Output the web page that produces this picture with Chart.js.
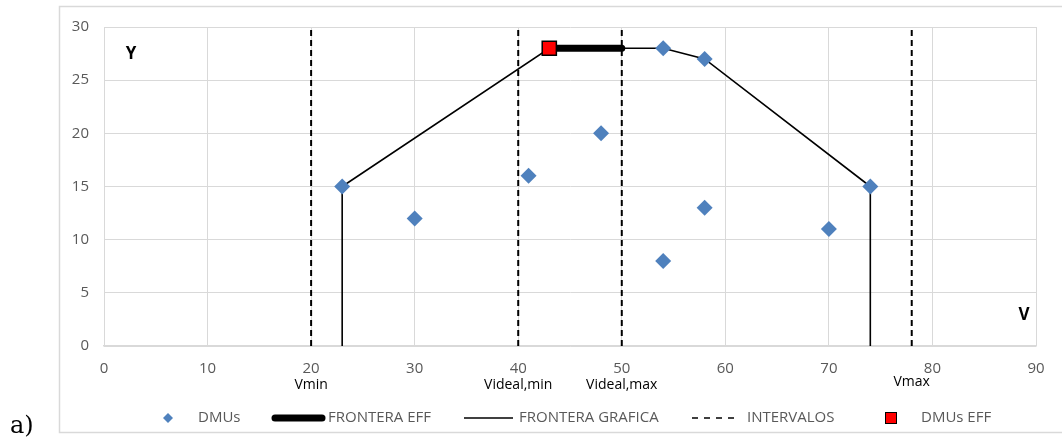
<!DOCTYPE html>
<html>
<head>
<meta charset="utf-8">
<script src="https://cdn.jsdelivr.net/npm/chart.js@4"></script>
<style>
html,body{margin:0;padding:0;background:#fff;}
#wrap{width:1062px;height:439px;position:relative;}
</style>
</head>
<body>
<div id="wrap"><canvas id="c" width="1062" height="439"></canvas></div>
<script>
// ---- data ----
const dmuV = [23, 30, 41, 48, 54, 54, 58, 58, 70, 74];
const dmuY = [15, 12, 16, 20, 28, 8, 27, 13, 11, 15];
const dmuEffV = [43];
const dmuEffY = [28];
const fronteraEffV = [43, 50];
const fronteraEffY = [28, 28];
const fronteraGrafV = [23, 23, 43, 54, 58, 74, 74];
const fronteraGrafY = [0, 15, 28, 28, 27, 15, 0];
const intervalV = [20, 40, 50, 78];
const intervalLabels = ['Vmin', 'Videal,min', 'Videal,max', 'Vmax'];
const intervalYRange = [0, 30];
const xTicks = [0, 10, 20, 30, 40, 50, 60, 70, 80, 90];
const yTicks = [0, 5, 10, 15, 20, 25, 30];
const seriesNames = ['DMUs', 'FRONTERA EFF', 'FRONTERA GRAFICA', 'INTERVALOS', 'DMUs EFF'];

const zip = (xs, ys) => xs.map((x, i) => ({x: x, y: ys[i]}));
const intervalPts = [];
intervalV.forEach((v, i) => {
  intervalPts.push({x: v, y: intervalYRange[0]});
  intervalPts.push({x: v, y: intervalYRange[1]});
  if (i < intervalV.length - 1) intervalPts.push({x: v, y: null});
});

const BLUE = '#4f81bd';
const FONT = '"Open Sans", sans-serif';

const extras = {
  id: 'extras',
  beforeDraw(chart) {
    const ctx = chart.ctx;
    ctx.save();
    ctx.fillStyle = '#fff';
    ctx.fillRect(0, 0, chart.width, chart.height);
    ctx.strokeStyle = '#d9d9d9';
    ctx.lineWidth = 1.5;
    ctx.strokeRect(59.5, 6.5, 1010, 426);
    ctx.restore();
  },
  afterDraw(chart) {
    const ctx = chart.ctx;
    const xs = chart.scales.x;
    ctx.save();
    // interval labels
    ctx.fillStyle = '#000';
    ctx.font = '14px ' + FONT;
    ctx.textAlign = 'center';
    ctx.textBaseline = 'middle';
    intervalV.forEach((v, i) => {
      const dy = intervalLabels[i] === 'Vmax' ? 382 : 385;
      ctx.fillText(intervalLabels[i], xs.getPixelForValue(v), dy);
    });
    // axis letters
    ctx.font = 'bold 17px ' + FONT;
    ctx.fillText('Y', 131, 54);
    ctx.fillText('V', 1024, 315);
    // a)
    ctx.font = '24px "DejaVu Serif", serif';
    ctx.textAlign = 'left';
    ctx.textBaseline = 'alphabetic';
    ctx.fillText('a)', 10, 433);
    // legend
    const ly = 418;
    ctx.font = '15px ' + FONT;
    ctx.fillStyle = '#595959';
    ctx.textBaseline = 'middle';
    // DMUs
    ctx.save();
    ctx.fillStyle = BLUE;
    ctx.beginPath();
    ctx.moveTo(168, ly - 5); ctx.lineTo(173, ly); ctx.lineTo(168, ly + 5); ctx.lineTo(163, ly);
    ctx.closePath(); ctx.fill();
    ctx.restore();
    ctx.fillText(seriesNames[0], 198, ly);
    // FRONTERA EFF
    ctx.save();
    ctx.strokeStyle = '#000'; ctx.lineWidth = 7; ctx.lineCap = 'round';
    ctx.beginPath(); ctx.moveTo(275, ly); ctx.lineTo(322, ly); ctx.stroke();
    ctx.restore();
    ctx.fillText(seriesNames[1], 328, ly);
    // FRONTERA GRAFICA
    ctx.save();
    ctx.strokeStyle = '#000'; ctx.lineWidth = 1.5;
    ctx.beginPath(); ctx.moveTo(464, ly); ctx.lineTo(513, ly); ctx.stroke();
    ctx.restore();
    ctx.fillText(seriesNames[2], 519, ly);
    // INTERVALOS
    ctx.save();
    ctx.strokeStyle = '#000'; ctx.lineWidth = 1.5; ctx.setLineDash([6, 6]);
    ctx.beginPath(); ctx.moveTo(692, ly); ctx.lineTo(738, ly); ctx.stroke();
    ctx.restore();
    ctx.fillText(seriesNames[3], 747, ly);
    // DMUs EFF
    ctx.save();
    ctx.fillStyle = '#ff0000'; ctx.strokeStyle = '#000'; ctx.lineWidth = 1;
    ctx.fillRect(886, ly - 5, 10, 10);
    ctx.strokeRect(885.5, ly - 5.5, 11, 11);
    ctx.restore();
    ctx.fillText(seriesNames[4], 921, ly);
    ctx.restore();
  }
};

new Chart(document.getElementById('c'), {
  type: 'scatter',
  data: {
    datasets: [
      {
        label: seriesNames[4],
        data: zip(dmuEffV, dmuEffY),
        pointStyle: 'rect',
        pointRadius: 10,
        backgroundColor: '#ff0000',
        borderColor: '#000',
        borderWidth: 1.5,
        order: 0
      },
      {
        label: seriesNames[0],
        data: zip(dmuV, dmuY),
        pointStyle: 'rectRot',
        pointRadius: 8,
        backgroundColor: BLUE,
        borderColor: BLUE,
        borderWidth: 0,
        order: 1
      },
      {
        label: seriesNames[1],
        data: zip(fronteraEffV, fronteraEffY),
        showLine: true,
        pointRadius: 0,
        borderColor: '#000',
        borderWidth: 7,
        borderCapStyle: 'round',
        order: 2
      },
      {
        label: seriesNames[2],
        data: zip(fronteraGrafV, fronteraGrafY),
        showLine: true,
        pointRadius: 0,
        borderColor: '#000',
        borderWidth: 1.6,
        order: 3
      },
      {
        label: seriesNames[3],
        data: intervalPts,
        showLine: true,
        spanGaps: false,
        pointRadius: 0,
        borderColor: '#000',
        borderWidth: 2,
        borderDash: [6, 4],
        order: 4
      }
    ]
  },
  options: {
    responsive: false,
    animation: false,
    events: [],
    layout: {padding: {left: 60, right: 26, top: 27, bottom: 0}},
    plugins: {legend: {display: false}, tooltip: {enabled: false}},
    scales: {
      x: {
        type: 'linear', min: 0, max: 90,
        afterBuildTicks: s => { s.ticks = xTicks.map(v => ({value: v})); },
        afterFit: s => { s.height = 93; },
        grid: {color: '#d9d9d9', drawTicks: false, lineWidth: 1},
        border: {color: '#d9d9d9', width: 1.5},
        ticks: {color: '#595959', font: {family: FONT, size: 15}, padding: 14, maxRotation: 0}
      },
      y: {
        type: 'linear', min: 0, max: 30,
        afterBuildTicks: s => { s.ticks = yTicks.map(v => ({value: v})); },
        afterFit: s => { s.width = 44; },
        grid: {color: '#d9d9d9', drawTicks: false, lineWidth: 1},
        border: {color: '#d9d9d9', width: 1},
        ticks: {color: '#595959', font: {family: FONT, size: 15}, padding: 15}
      }
    }
  },
  plugins: [extras]
});
</script>
</body>
</html>
